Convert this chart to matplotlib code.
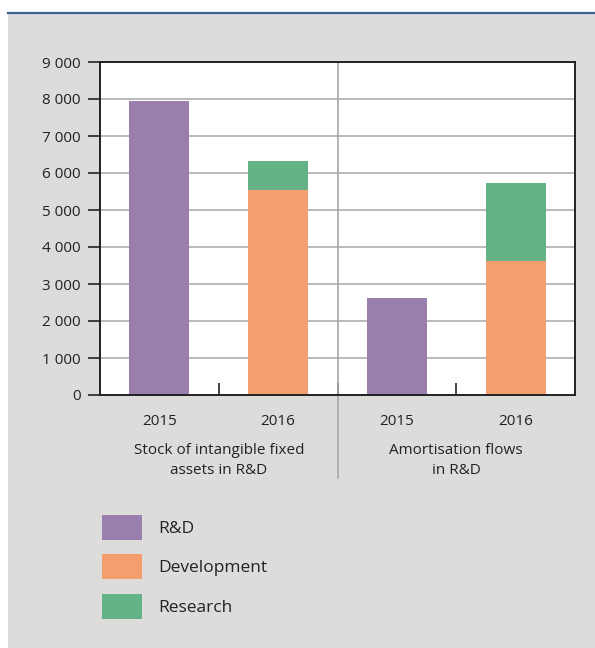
import matplotlib
matplotlib.use("Agg")
import matplotlib.pyplot as plt
from matplotlib.patches import Rectangle, Patch
from matplotlib.lines import Line2D
import matplotlib.transforms as mtransforms

plt.rcParams['font.family'] = ['Open Sans', 'DejaVu Sans']

# Data
years = ["2015", "2016", "2015", "2016"]
groups = ["Stock of intangible fixed\nassets in R&D", "Amortisation flows\nin R&D"]
rd = [7950, 0, 2620, 0]
development = [0, 5540, 0, 3630]
research = [0, 780, 0, 2100]
series_names = ["R&D", "Development", "Research"]
y_ticks = [0, 1000, 2000, 3000, 4000, 5000, 6000, 7000, 8000, 9000]
y_tick_labels = ["0", "1 000", "2 000", "3 000", "4 000", "5 000",
                 "6 000", "7 000", "8 000", "9 000"]

c_rd = "#9a7fae"
c_dev = "#f49e6f"
c_res = "#66b287"
panel = "#dcdcdb"
text_c = "#222222"

W, H = 595, 648
fig = plt.figure(figsize=(W / 100, H / 100), dpi=100, facecolor="white")

# Grey panel with blue rule on top
fig.add_artist(Rectangle((8 / W, 0), 1 - 8 / W, (H - 12.5) / H,
                         transform=fig.transFigure, facecolor=panel,
                         edgecolor="none", zorder=0))
fig.add_artist(Line2D([8 / W, 1], [(H - 12.5) / H] * 2, transform=fig.transFigure,
                      color="#3d6394", lw=1.6, zorder=1))

ax = fig.add_axes([100 / W, (H - 395) / H, 475 / W, 333 / H])
ax.set_facecolor("white")

x = list(range(len(years)))
bw = 0.505
ax.bar(x, rd, bw, color=c_rd, zorder=3)
ax.bar(x, development, bw, color=c_dev, zorder=3)
ax.bar(x, research, bw, bottom=development, color=c_res, zorder=3)

ax.set_xlim(-0.5, 3.5)
ax.set_ylim(0, 9000)
ax.set_yticks(y_ticks)
ax.set_yticklabels(y_tick_labels, fontsize=11, color=text_c)
ax.yaxis.grid(True, color="#b4b4b4", lw=1.3, zorder=1)
ax.set_axisbelow(True)
ax.tick_params(axis="y", direction="out", length=8.6, width=1.2, pad=5.5,
               color="#222222")

ax.set_xticks(x)
ax.set_xticklabels(years, fontsize=11, color=text_c)
ax.tick_params(axis="x", which="major", length=0, pad=14)
ax.set_xticks([0.5, 1.5, 2.5], minor=True)
ax.tick_params(axis="x", which="minor", direction="in", length=8.6, width=1.2,
               color="#222222")

for s in ax.spines.values():
    s.set_color("#222222")
    s.set_linewidth(1.4)
    s.set_zorder(4)

# Group separator
trans = mtransforms.blended_transform_factory(ax.transData, ax.transAxes)
ax.add_line(Line2D([1.5, 1.5], [1, -0.25], transform=trans, color="#a8a8a8",
                   lw=1.2, clip_on=False, zorder=2))

# Group labels
for gx, g in zip([0.5, 2.5], groups):
    ax.text(gx, -0.145, g, transform=trans, ha="center", va="top",
            fontsize=11, color=text_c, linespacing=1.4)

# Legend
handles = [Patch(facecolor=c, edgecolor="none") for c in (c_rd, c_dev, c_res)]
leg = fig.legend(handles, series_names, loc="upper left",
                 bbox_to_anchor=(102 / W, (H - 515) / H), frameon=False,
                 fontsize=12.5, handlelength=2.3, handleheight=1.8,
                 handletextpad=0.92, labelspacing=0.86, labelcolor=text_c,
                 borderpad=0, borderaxespad=0)

fig.savefig("out.png", dpi=100, facecolor=fig.get_facecolor())
